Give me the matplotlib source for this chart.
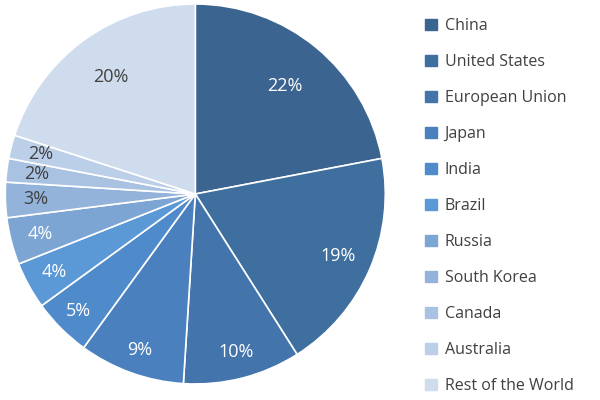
import numpy as np
import matplotlib
matplotlib.use('Agg')
import matplotlib.pyplot as plt
import matplotlib.patches as mpatches

plt.rcParams['font.family'] = ['Open Sans', 'DejaVu Sans']

countries = ['China', 'United States', 'European Union', 'Japan', 'India', 'Brazil',
             'Russia', 'South Korea', 'Canada', 'Australia', 'Rest of the World']
shares = [22, 19, 10, 9, 5, 4, 4, 3, 2, 2, 20]
colors = ['#3b6590', '#3f6f9f', '#4375ac', '#4a80bd', '#4f8bcb', '#5a98d6',
          '#7da5d4', '#93b3da', '#a9c2e2', '#bccfe8', '#cfdcee']
label_colors = ['white'] * 7 + ['#404040'] * 4
label_dist = [0.74, 0.82, 0.86, 0.87, 0.87, 0.85, 0.84, 0.84, 0.84, 0.84, 0.76]

fig = plt.figure(figsize=(6, 4), dpi=100)
ax = fig.add_axes([0.008, 0.04, 0.635, 0.95])
wedges, _ = ax.pie(shares, colors=colors, startangle=90, counterclock=False,
                   wedgeprops=dict(edgecolor='white', linewidth=1.2))
for w, v, c, d in zip(wedges, shares, label_colors, label_dist):
    ang = np.deg2rad((w.theta1 + w.theta2) / 2)
    ax.text(d * np.cos(ang), d * np.sin(ang), f'{v}%', color=c, fontsize=13,
            ha='center', va='center')
ax.set_xlim(-1.0, 1.0)
ax.set_ylim(-1.0, 1.0)
ax.set_aspect('equal')

handles = [mpatches.Patch(color=c, label=n) for n, c in zip(countries, colors)]
fig.legend(handles=handles, loc='upper left', bbox_to_anchor=(0.685, 0.99),
           frameon=False, fontsize=11.5, labelcolor='#404040',
           handlelength=0.7, handleheight=0.7, labelspacing=1.25, handletextpad=0.5)

fig.savefig('out.png', dpi=100)
